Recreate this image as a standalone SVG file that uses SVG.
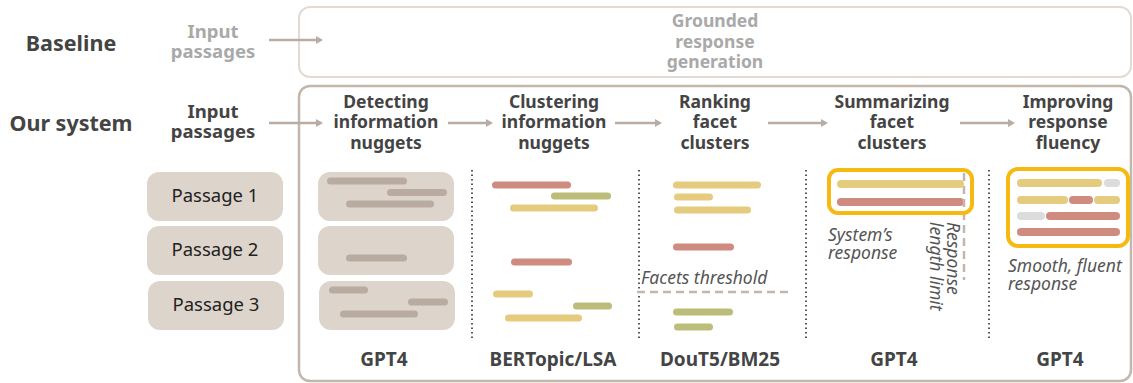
<svg xmlns="http://www.w3.org/2000/svg" width="1133" height="383" viewBox="0 0 1133 383">
<defs>
<style>
.t{font-family:"Noto Sans","Open Sans",sans-serif;font-weight:700;font-size:17.5px;fill:#444;text-anchor:middle}
.g{fill:#a9a9a9}
.in{font-size:18.5px}
.big{font-size:21.5px}
.m{font-size:19px}
.p{font-family:"Noto Sans","Open Sans",sans-serif;font-size:18.5px;fill:#222;text-anchor:middle}
.it{font-family:"Noto Sans",Roboto,sans-serif;font-style:italic;font-size:17.5px;fill:#555}
.box{fill:#ddd5cc}
.nb{fill:#b9ab9f}
.r{fill:#d08b80}
.y{fill:#e5cb7e}
.gr{fill:#bcbd78}
.gy{fill:#dcdcdc}
.dot{stroke:#555;stroke-width:2;stroke-dasharray:1.5 3;fill:none}
.arr{stroke:#b9ada3;stroke-width:2.5;fill:none;marker-end:url(#ah)}
.hl{fill:none;stroke:#f6b90f;stroke-width:4}
.dash{stroke:#c4b6aa;stroke-width:2.5;stroke-dasharray:8 5;fill:none}
</style>
<marker id="ah" markerWidth="8" markerHeight="8" refX="5" refY="4" orient="auto" markerUnits="userSpaceOnUse">
<path d="M0,0 L7,4 L0,8 Z" fill="#b9ada3"/>
</marker>
</defs>
<rect width="1133" height="383" fill="#fff"/>

<g id="baseline-label"><text class="t big" x="71" y="51">Baseline</text></g>
<g id="baseline-input"><text class="t g in" x="213" y="38">Input</text><text class="t g in" x="213" y="58">passages</text></g>
<g id="baseline-box">
<rect x="299" y="7" width="832" height="70" rx="11" fill="none" stroke="#e3dbd3" stroke-width="2"/>
<text class="t g" x="715" y="27">Grounded</text><text class="t g" x="715" y="48">response</text><text class="t g" x="715" y="68">generation</text>
</g>

<g id="our-label"><text class="t big" x="71" y="131">Our system</text></g>
<g id="our-input"><text class="t in" x="213" y="118">Input</text><text class="t in" x="213" y="138">passages</text></g>
<g id="system-box"><rect x="299" y="86" width="832" height="295" rx="11" fill="none" stroke="#c3b7ac" stroke-width="2.5"/></g>

<g id="step-detect"><text class="t" x="386" y="108">Detecting</text><text class="t" x="386" y="128">information</text><text class="t" x="386" y="149">nuggets</text></g>
<g id="step-cluster"><text class="t" x="554" y="108">Clustering</text><text class="t" x="554" y="128">information</text><text class="t" x="554" y="149">nuggets</text></g>
<g id="step-rank"><text class="t" x="715" y="108">Ranking</text><text class="t" x="715" y="128">facet</text><text class="t" x="715" y="149">clusters</text></g>
<g id="step-summ"><text class="t" x="892" y="108">Summarizing</text><text class="t" x="892" y="128">facet</text><text class="t" x="892" y="149">clusters</text></g>
<g id="step-fluency"><text class="t" x="1068" y="108">Improving</text><text class="t" x="1068" y="128">response</text><text class="t" x="1068" y="149">fluency</text></g>

<g id="connectors">
<line class="arr" x1="269" y1="40" x2="321" y2="40"/>
<line class="arr" x1="269" y1="123" x2="321" y2="123"/>
<line class="arr" x1="448" y1="123" x2="491" y2="123"/>
<line class="arr" x1="615" y1="123" x2="660" y2="123"/>
<line class="arr" x1="768" y1="123" x2="826" y2="123"/>
<line class="arr" x1="960" y1="123" x2="1013" y2="123"/>
</g>

<g id="passage-1"><rect class="box" x="147" y="172" width="136" height="49" rx="12"/><text class="p" x="215" y="202">Passage 1</text></g>
<g id="passage-2"><rect class="box" x="147" y="226" width="136" height="49" rx="12"/><text class="p" x="215" y="256">Passage 2</text></g>
<g id="passage-3"><rect class="box" x="148" y="281" width="136" height="49" rx="12"/><text class="p" x="216" y="311">Passage 3</text></g>

<g id="nuggets">
<rect class="box" x="318" y="172" width="136" height="49" rx="12"/>
<rect class="box" x="318" y="226" width="136" height="49" rx="12"/>
<rect class="box" x="319" y="281" width="136" height="49" rx="12"/>
<rect class="nb" x="327" y="177.5" width="80" height="7" rx="3.5"/>
<rect class="nb" x="387" y="189" width="60" height="7" rx="3.5"/>
<rect class="nb" x="346" y="200.5" width="88" height="7" rx="3.5"/>
<rect class="nb" x="346" y="254.5" width="61" height="7" rx="3.5"/>
<rect class="nb" x="329" y="286.5" width="39" height="7" rx="3.5"/>
<rect class="nb" x="408" y="298.5" width="40" height="7" rx="3.5"/>
<rect class="nb" x="340" y="310.5" width="78" height="7" rx="3.5"/>
</g>

<g id="dividers">
<line class="dot" x1="472" y1="170" x2="472" y2="341"/>
<line class="dot" x1="639" y1="170" x2="639" y2="341"/>
<line class="dot" x1="806" y1="170" x2="806" y2="341"/>
<line class="dot" x1="989" y1="170" x2="989" y2="341"/>
</g>

<g id="clusters">
<rect class="r" x="492" y="181.5" width="79" height="7" rx="3.5"/>
<rect class="gr" x="551" y="192.5" width="60" height="7" rx="3.5"/>
<rect class="y" x="510" y="204.5" width="88" height="7" rx="3.5"/>
<rect class="r" x="511" y="258.5" width="61" height="7" rx="3.5"/>
<rect class="y" x="493" y="290.5" width="40" height="7" rx="3.5"/>
<rect class="gr" x="573" y="302.5" width="39" height="7" rx="3.5"/>
<rect class="y" x="505" y="314.5" width="77" height="7" rx="3.5"/>
</g>

<g id="ranking">
<rect class="y" x="673" y="181.5" width="88" height="7" rx="3.5"/>
<rect class="y" x="674" y="193.5" width="39" height="7" rx="3.5"/>
<rect class="y" x="674" y="206.5" width="77" height="7" rx="3.5"/>
<rect class="r" x="673" y="243.5" width="61" height="7" rx="3.5"/>
<text class="it" x="641" y="284">Facets threshold</text>
<line class="dash" x1="637" y1="292" x2="790" y2="292"/>
<rect class="gr" x="673" y="308.5" width="60" height="7" rx="3.5"/>
<rect class="gr" x="674" y="323.5" width="39" height="7" rx="3.5"/>
</g>

<g id="summary">
<rect class="y" x="837" y="180" width="127" height="8" rx="4"/>
<rect class="r" x="837" y="198" width="127" height="8" rx="4"/>
<line class="dash" x1="964" y1="173" x2="964" y2="280" stroke-dasharray="10 5"/>
<rect class="hl" x="829" y="170" width="143" height="43" rx="9"/>
<text class="it" x="828" y="241">System’s</text>
<text class="it" x="828" y="258.5">response</text>
<text class="it" transform="translate(947,222) rotate(90)">Response</text>
<text class="it" transform="translate(930,222) rotate(90)">length limit</text>
</g>

<g id="fluent">
<rect class="y" x="1017" y="179" width="85" height="8" rx="4"/>
<rect class="gy" x="1104" y="179" width="16" height="8" rx="4"/>
<rect class="y" x="1017" y="196" width="51" height="8" rx="4"/>
<rect class="r" x="1069" y="196" width="24" height="8" rx="4"/>
<rect class="y" x="1094" y="196" width="26" height="8" rx="4"/>
<rect class="gy" x="1017" y="212" width="28" height="8" rx="4"/>
<rect class="r" x="1046" y="212" width="74" height="8" rx="4"/>
<rect class="r" x="1017" y="228" width="103" height="8" rx="4"/>
<rect class="hl" x="1008" y="169" width="120" height="77" rx="10"/>
<text class="it" x="1008" y="272">Smooth, fluent</text>
<text class="it" x="1008" y="289.5">response</text>
</g>

<g id="models">
<text class="t m" x="384" y="366">GPT4</text>
<text class="t m" x="553" y="366">BERTopic/LSA</text>
<text class="t m" x="720" y="366">DouT5/BM25</text>
<text class="t m" x="894" y="366">GPT4</text>
<text class="t m" x="1060" y="366">GPT4</text>
</g>
</svg>
